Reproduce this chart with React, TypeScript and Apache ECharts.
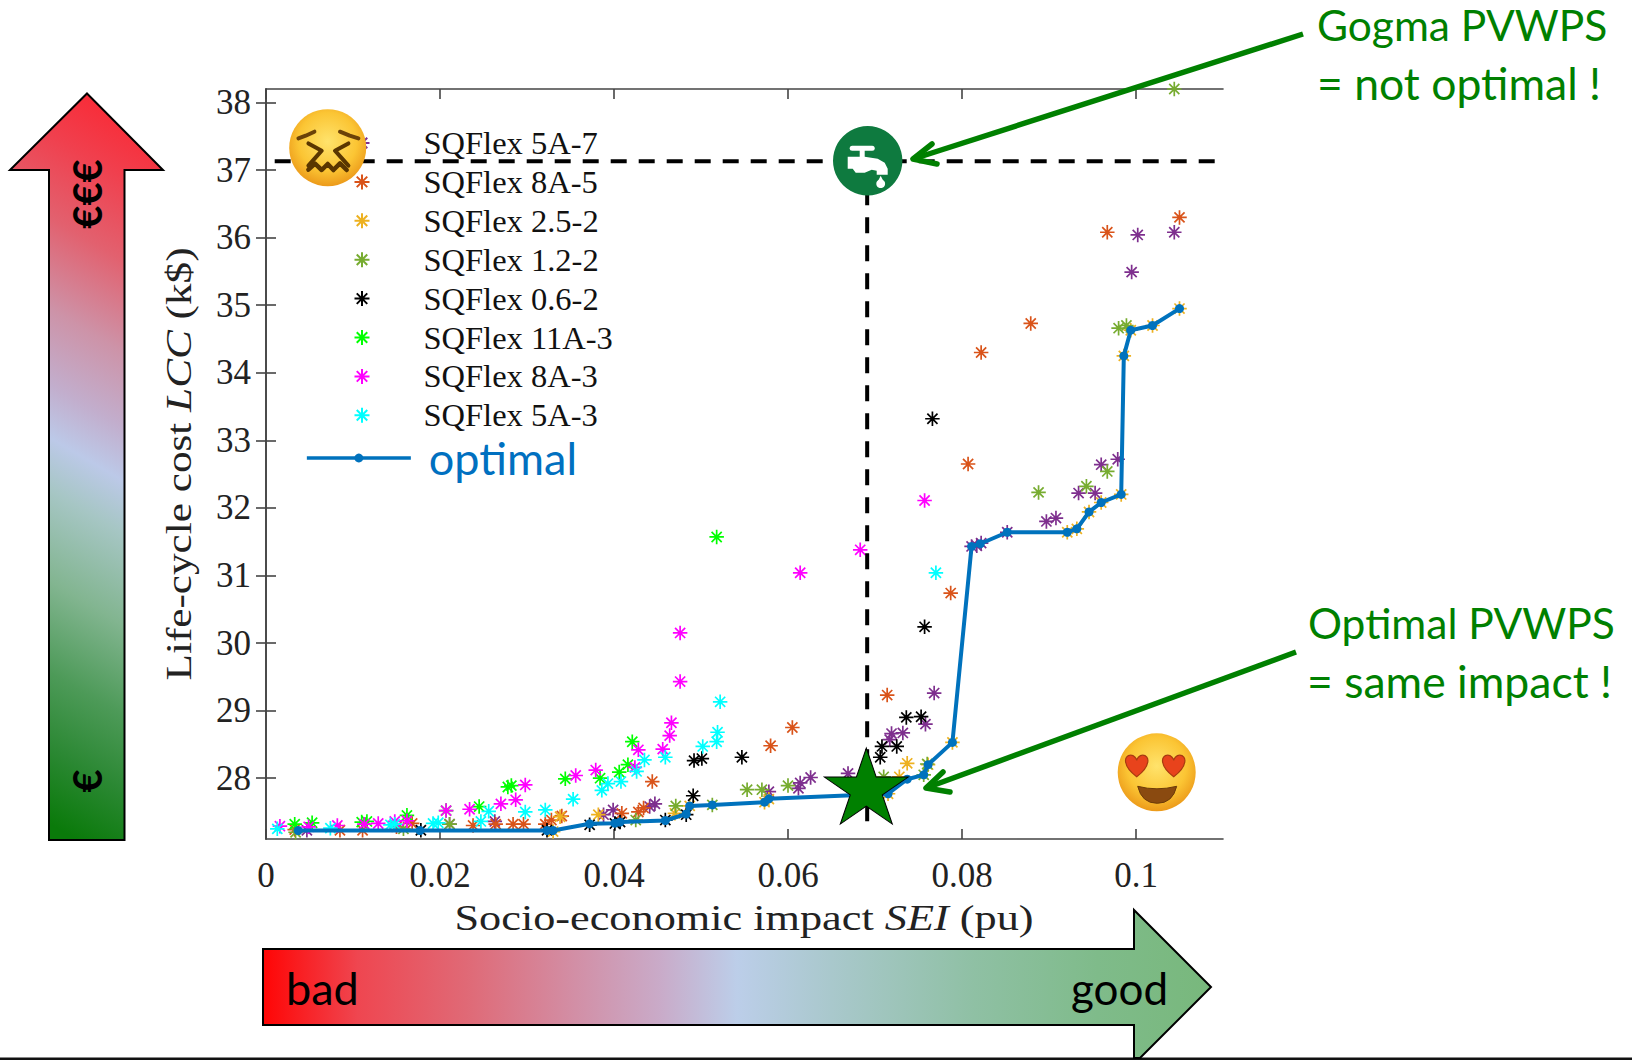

import React, { useEffect, useRef } from "react";
import * as echarts from "echarts";

const xTicks = [0, 0.02, 0.04, 0.06, 0.08, 0.1];
const yTicks = [28, 29, 30, 31, 32, 33, 34, 35, 36, 37, 38];

const sqflex5A7 = [[.1002,36.04],[.1044,36.08],[.0995,35.49],[.0979,32.72],[.0960,32.64],[.0934,32.22],[.0953,32.22],[.0897,31.80],[.0908,31.85],[.0852,31.64],[.0822,31.48],[.0811,31.43],[.0817,31.44],[.0768,29.26],[.0758,28.80],[.0732,28.67],[.0719,28.66],[.0717,28.57],[.0626,28.01],[.0614,27.93],[.0612,27.85],[.0578,27.80],[.0669,28.07],[.0447,27.62],[.0441,27.58],[.0399,27.53],[.0388,27.46],[.0263,27.36],[.0211,27.32],[.0047,27.23]];
const sqflex8A5 = [[.1050,36.30],[.0967,36.08],[.0879,34.73],[.0822,34.30],[.0807,32.65],[.0787,30.74],[.0714,29.23],[.0605,28.75],[.0580,28.48],[.0444,27.95],[.0434,27.56],[.0428,27.50],[.0409,27.48],[.0340,27.44],[.0328,27.38],[.0321,27.32],[.0296,27.32],[.0284,27.32],[.0264,27.32],[.0238,27.30],[.0085,27.23],[.0111,27.23],[.0033,27.24],[.0150,27.28],[.0168,27.33]];
const sqflex25 = [[.105,34.95],[.1019,34.70],[.0994,34.63],[.0986,34.25],[.0983,32.2],[.0960,32.08],[.0946,31.94],[.0932,31.69],[.0921,31.64],[.0789,28.53],[.0761,28.2],[.0737,28.22],[.0728,28.02],[.0715,27.77],[.0573,27.645],[.0578,27.69],[.0382,27.46],[.0470,27.48],[.0487,27.59],[.0338,27.43],[.0330,27.21]];
const sqflex12 = [[.1044,38.20],[.0980,34.66],[.0989,34.70],[.0888,32.23],[.0943,32.32],[.0967,32.54],[.0553,27.83],[.0570,27.83],[.0600,27.89],[.0756,28.05],[.0760,28.21],[.0710,28.02],[.0513,27.605],[.0471,27.59],[.0425,27.38],[.0211,27.32],[.0034,27.2],[.0158,27.25]];
const sqflex06 = [[.0766,33.32],[.0757,30.24],[.0736,28.90],[.0753,28.91],[.0708,28.47],[.0725,28.47],[.0706,28.31],[.0547,28.31],[.0501,28.29],[.0492,28.26],[.0491,27.74],[.0483,27.46],[.0459,27.38],[.0407,27.35],[.0401,27.33],[.0372,27.31],[.0323,27.23],[.0178,27.23]];
const sqflex11A = [[.0518,31.57],[.0421,28.54],[.0416,28.20],[.0406,28.09],[.0384,28.0],[.0344,27.99],[.0278,27.87],[.0282,27.89],[.0245,27.58],[.0207,27.52],[.0162,27.45],[.0116,27.36],[.0110,27.35],[.0053,27.34],[.0033,27.32]];
const sqflex8A3 = [[.0757,32.11],[.0683,31.38],[.0614,31.04],[.0476,30.15],[.0476,29.43],[.0466,28.82],[.0464,28.63],[.0456,28.43],[.0428,28.42],[.0379,28.12],[.0356,28.04],[.0298,27.90],[.0287,27.68],[.0270,27.62],[.0234,27.54],[.0207,27.52],[.0162,27.37],[.0148,27.36],[.0129,27.33],[.0113,27.32],[.0082,27.30],[.0049,27.28],[.0016,27.29],[.0424,28.16]];
const sqflex5A3 = [[.0770,31.04],[.0522,29.13],[.0519,28.68],[.0518,28.54],[.0502,28.47],[.0459,28.31],[.0435,28.27],[.0426,28.10],[.0408,27.95],[.0393,27.92],[.0386,27.82],[.0353,27.69],[.0321,27.53],[.0298,27.50],[.0256,27.51],[.0247,27.36],[.0198,27.34],[.0192,27.33],[.0148,27.32],[.0143,27.31],[.0074,27.26],[.0013,27.25]];
const optimal = [[.0037,27.226],[.0177,27.226],[.0323,27.226],[.0330,27.226],[.0372,27.325],[.0401,27.334],[.0407,27.35],[.0459,27.374],[.0483,27.47],[.0487,27.59],[.0513,27.605],[.0573,27.645],[.0578,27.694],[.0715,27.77],[.0737,27.985],[.0756,28.05],[.0761,28.2],[.0789,28.53],[.0811,31.43],[.0821,31.47],[.0852,31.64],[.0921,31.64],[.0932,31.69],[.0946,31.94],[.0960,32.08],[.0983,32.2],[.0986,34.25],[.0994,34.63],[.1019,34.70],[.105,34.95]];
const gogmaH = [[.001,37.13],[.1092,37.13]];
const gogmaV = [[.0691,37.13],[.0691,27.2]];
const starPoint = [[.069,27.884]];

const scatterDefs: [string, number[][], string][] = [
  ["SQFlex 5A-7", sqflex5A7, "#7E2F8E"],
  ["SQFlex 8A-5", sqflex8A5, "#D95319"],
  ["SQFlex 2.5-2", sqflex25, "#EDB120"],
  ["SQFlex 1.2-2", sqflex12, "#77AC30"],
  ["SQFlex 0.6-2", sqflex06, "#000000"],
  ["SQFlex 11A-3", sqflex11A, "#00FF00"],
  ["SQFlex 8A-3", sqflex8A3, "#FF00FF"],
  ["SQFlex 5A-3", sqflex5A3, "#00FFFF"],
];

const ASTERISK = "path://M0 -1L0 1M-1 0L1 0M-0.7 -0.7L0.7 0.7M-0.7 0.7L0.7 -0.7";
const STAR = "path://M0 -1L0.2245 -0.309L0.951 -0.309L0.363 0.118L0.588 0.809L0 0.382L-0.588 0.809L-0.363 0.118L-0.951 -0.309L-0.2245 -0.309Z";
const SERIF = '"Liberation Serif", serif';
const SANS = 'Lato, "Open Sans", sans-serif';
const GREEN = "#008000";
const INK = "#222222";

echarts.graphic.registerShape("emojiHeart", echarts.graphic.extendPath(
  "M0 0.9C-1.2 0 -1.1 -0.9 -0.5 -0.9C-0.2 -0.9 0 -0.6 0 -0.45C0 -0.6 0.2 -0.9 0.5 -0.9C1.1 -0.9 1.2 0 0 0.9Z", {}));
echarts.graphic.registerShape("emojiMouth", echarts.graphic.extendPath(
  "M-19 14Q0 19 20 14Q16 31 0.5 31Q-15 31 -19 14Z", {}));

const faceFill = {
  type: "radial", x: 0.5, y: 0.42, r: 0.58,
  colorStops: [
    { offset: 0, color: "#ffe36c" },
    { offset: 0.65, color: "#fbc534" },
    { offset: 1, color: "#ec9a1a" },
  ],
};

function label(text: string, x: number, y: number, size: number, fill: string) {
  return {
    type: "text", x, y, z: 20,
    style: { text, fontSize: size, fontFamily: SANS, fill, textAlign: "left", textVerticalAlign: "middle", align: "left", verticalAlign: "middle" },
  };
}

function axisTitle(text: string, x: number, y: number, rotation: number, scaleX: number) {
  const part = (italic: boolean) => ({ fontFamily: SERIF, fontSize: 36, fill: INK, fontStyle: italic ? "italic" : "normal" });
  return {
    type: "text", x, y, rotation, scaleX, z: 4,
    style: {
      text, textAlign: "center", textVerticalAlign: "middle", align: "center", verticalAlign: "middle",
      rich: { a: part(false), i: part(true) },
    },
  };
}

function stroke(color: string, lineWidth: number) {
  return { stroke: color, lineWidth, fill: "none", lineCap: "round", lineJoin: "round" };
}

function openArrow(from: number[], tip: number[], a: number[], b: number[]) {
  return [
    { type: "line", z: 18, shape: { x1: from[0], y1: from[1], x2: tip[0], y2: tip[1] }, style: { stroke: GREEN, lineWidth: 5.5 } },
    { type: "polyline", z: 18, shape: { points: [a, tip, b] }, style: stroke(GREEN, 5.5) },
  ];
}

const verticalGradient = {
  type: "linear", x: 0.56, y: 0, x2: 0.44, y2: 1,
  colorStops: [
    { offset: 0, color: "#f92a36" },
    { offset: 0.09, color: "#f0404e" },
    { offset: 0.2, color: "#e2616f" },
    { offset: 0.32, color: "#cd93a8" },
    { offset: 0.42, color: "#c2aecd" },
    { offset: 0.49, color: "#bcc9e8" },
    { offset: 0.56, color: "#a6c6c4" },
    { offset: 0.68, color: "#82b590" },
    { offset: 0.8, color: "#4d9a58" },
    { offset: 0.9, color: "#2b8833" },
    { offset: 1, color: "#0a7a0a" },
  ],
};
const horizontalGradient = {
  type: "linear", x: 0, y: 0, x2: 1, y2: 0,
  colorStops: [
    { offset: 0, color: "#ff0505" },
    { offset: 0.1, color: "#ef4650" },
    { offset: 0.22, color: "#df6b78" },
    { offset: 0.33, color: "#d28fa6" },
    { offset: 0.42, color: "#c9abc9" },
    { offset: 0.5, color: "#bccee9" },
    { offset: 0.6, color: "#a9c8cc" },
    { offset: 0.75, color: "#8fc0a4" },
    { offset: 0.88, color: "#7fbb8a" },
    { offset: 1, color: "#78b87c" },
  ],
};

function buildGraphic(): any[] {
  const worried = {
    type: "group", x: 327.7, y: 147.7,
    children: [
      { type: "circle", z: 12, shape: { cx: 0, cy: 0, r: 38.5 }, style: { fill: faceFill } },
      { type: "polyline", z: 13, shape: { points: [[-29.3, -9.3], [-22, -12], [-13.3, -16]] }, style: stroke("#6b4208", 4) },
      { type: "polyline", z: 13, shape: { points: [[12.3, -16], [22, -12], [30.7, -9.3]] }, style: stroke("#6b4208", 4) },
      { type: "polyline", z: 13, shape: { points: [[-19.3, -4.3], [-6, 3], [-19.3, 18]] }, style: stroke("#5a3600", 4) },
      { type: "polyline", z: 13, shape: { points: [[20.7, -4.3], [7.3, 3], [20.7, 18]] }, style: stroke("#5a3600", 4) },
      { type: "polyline", z: 13, shape: { points: [[-19.3, 22], [-12.7, 16], [-6, 22.3], [0, 16.3], [5.7, 22.3], [12.3, 15.7], [19, 22.3]] }, style: stroke("#5a3600", 4.5) },
    ],
  };
  const love = {
    type: "group", x: 1156.7, y: 772.3,
    children: [
      { type: "circle", z: 12, shape: { cx: 0, cy: 0, r: 39 }, style: { fill: faceFill } },
      { type: "emojiHeart", z: 13, x: -20, y: -6.3, scaleX: 12, scaleY: 12, style: { fill: "#e8431c", stroke: "#a83a10", lineWidth: 0.1 } },
      { type: "emojiHeart", z: 13, x: 17, y: -6.3, scaleX: 12, scaleY: 12, style: { fill: "#e8431c", stroke: "#a83a10", lineWidth: 0.1 } },
      { type: "emojiMouth", z: 13, style: { fill: "#8a4a10", stroke: "#6b3a08", lineWidth: 1 } },
    ],
  };
  const tap = {
    type: "group", x: 867.7, y: 160.7,
    children: [
      { type: "circle", z: 12, shape: { cx: 0, cy: 0, r: 34.7 }, style: { fill: "#0e7a3f" } },
      { type: "rect", z: 13, shape: { x: -18, y: -15, width: 25, height: 5, r: 2.5 }, style: { fill: "#ffffff" } },
      { type: "rect", z: 13, shape: { x: -8, y: -11, width: 5, height: 8 }, style: { fill: "#ffffff" } },
      { type: "polygon", z: 13, shape: { points: [[-20, -4], [-3, -4], [10, -2], [17, 2], [20, 8], [20, 14], [9, 14], [9, 10], [4, 9], [-3, 12], [-12, 12], [-15, 8], [-20, 8]] }, style: { fill: "#ffffff" } },
      { type: "polygon", z: 13, shape: { points: [[13, 15], [9.5, 22], [16.5, 22]] }, style: { fill: "#ffffff" } },
      { type: "circle", z: 13, shape: { cx: 13, cy: 23, r: 4.4 }, style: { fill: "#ffffff" } },
    ],
  };
  return [
    { type: "rect", z: 1, shape: { x: 0, y: 1057.5, width: 1632, height: 2.5 }, style: { fill: "#111111" } },
    { type: "polygon", z: 3, shape: { points: [[87, 93.5], [163, 170], [124.5, 170], [124.5, 840], [49, 840], [49, 170], [10, 170]] }, style: { fill: verticalGradient, stroke: "#000000", lineWidth: 2 } },
    { type: "polygon", z: 3, shape: { points: [[263, 949], [1134, 949], [1134, 910], [1211, 987], [1140, 1058], [1134, 1058], [1134, 1025], [263, 1025]] }, style: { fill: horizontalGradient, stroke: "#000000", lineWidth: 2 } },
    { type: "text", z: 20, x: 87, y: 194, rotation: Math.PI / 2, style: { text: "€€€", fontSize: 40, fontFamily: SANS, fontWeight: "bold", fill: "#000000", textAlign: "center", textVerticalAlign: "middle", align: "center", verticalAlign: "middle" } },
    { type: "text", z: 20, x: 87, y: 781, rotation: Math.PI / 2, style: { text: "€", fontSize: 40, fontFamily: SANS, fontWeight: "bold", fill: "#000000", textAlign: "center", textVerticalAlign: "middle", align: "center", verticalAlign: "middle" } },
    axisTitle("{a|Socio-economic impact }{i|SEI}{a| (pu)}", 744, 918, 0, 1.23),
    axisTitle("{a|Life-cycle cost }{i|LCC}{a| (k$)}", 179, 464, Math.PI / 2, 1.2),
    label("bad", 286, 988, 45, "#000000"),
    label("good", 1071, 988, 44, "#000000"),
    label("Gogma PVWPS", 1317, 24, 42.5, GREEN),
    label("= not optimal !", 1317, 82, 44.5, GREEN),
    label("Optimal PVWPS", 1308, 622, 42.5, GREEN),
    label("= same impact !", 1307, 680, 44.5, GREEN),
    worried, love, tap,
    ...openArrow([1303, 34], [913, 159], [932, 144], [937, 164]),
    ...openArrow([1296, 652], [926, 788], [943, 772], [950, 792]),
  ];
}

const frameAxis = { lineStyle: { color: "#444444", width: 1.6 } };
const frameTick = { inside: true, length: 10, lineStyle: { color: "#444444", width: 1.6 } };

function buildOption(): any {
  return {
    animation: false,
    backgroundColor: "#ffffff",
    grid: { left: 266, top: 89, width: 957, height: 750, containLabel: false },
    xAxis: [
      {
        type: "value", min: 0, max: 0.11, position: "bottom",
        splitLine: { show: false }, axisLine: { show: true, ...frameAxis },
        axisTick: { ...frameTick, customValues: xTicks },
        axisLabel: { customValues: xTicks, margin: 19, fontFamily: SERIF, fontSize: 35, color: INK, formatter: (v: number) => String(v) },
      },
      {
        type: "value", min: 0, max: 0.11, position: "top",
        splitLine: { show: false }, axisLine: { show: true, ...frameAxis },
        axisTick: { ...frameTick, customValues: xTicks }, axisLabel: { show: false },
      },
    ],
    yAxis: [
      {
        type: "value", min: 27.1, max: 38.2, position: "left",
        splitLine: { show: false }, axisLine: { show: true, ...frameAxis },
        axisTick: { ...frameTick, customValues: yTicks },
        axisLabel: { customValues: yTicks, margin: 15, fontFamily: SERIF, fontSize: 35, color: INK },
      },
      {
        type: "value", min: 27.1, max: 38.2, position: "right",
        splitLine: { show: false }, axisLine: { show: true, ...frameAxis },
        axisTick: { ...frameTick, customValues: yTicks }, axisLabel: { show: false },
      },
    ],
    legend: [
      {
        orient: "vertical", left: 352, top: 126.5, itemWidth: 15, itemHeight: 15, itemGap: 5.9, padding: 0,
        selectedMode: false, symbolKeepAspect: true,
        textStyle: { fontFamily: SERIF, fontSize: 32.5, color: "#111111", padding: [0, 0, 0, 49], lineHeight: 30 },
        data: scatterDefs.map(([name]) => ({ name, icon: ASTERISK })),
      },
      {
        orient: "vertical", left: 305, top: 435.5, itemWidth: 104, itemHeight: 11, padding: 0,
        selectedMode: false,
        lineStyle: { width: 3.7, color: "#0072BD" },
        textStyle: { fontFamily: SANS, fontSize: 45, color: "#0070C0", padding: [0, 0, 0, 13], lineHeight: 40 },
        data: ["optimal"],
      },
    ],
    graphic: { elements: buildGraphic() },
    series: [
      ...scatterDefs.map(([name, data, color]) => ({
        name, type: "scatter", data, clip: false, z: 2,
        symbol: ASTERISK, symbolSize: 14.5,
        itemStyle: { color: "none", borderColor: color, borderWidth: 1.7, opacity: 1 },
      })),
      {
        name: "optimal", type: "line", data: optimal, z: 3, clip: false,
        symbol: "circle", symbolSize: 9, showSymbol: true,
        lineStyle: { color: "#0072BD", width: 4 },
        itemStyle: { color: "#0072BD" },
      },
      ...[gogmaH, gogmaV].map((data) => ({
        type: "line", data, z: 5, clip: false, symbol: "none", silent: true,
        lineStyle: { color: "#000000", width: 4, type: [16, 12] },
      })),
      {
        type: "scatter", data: starPoint, z: 6, clip: false, silent: true,
        symbol: STAR, symbolSize: [84, 76],
        itemStyle: { color: GREEN, borderColor: "#000000", borderWidth: 1, opacity: 1 },
      },
    ],
  };
}

export default function App() {
  const ref = useRef<HTMLDivElement>(null);
  useEffect(() => {
    const chart = echarts.init(ref.current!, null, { renderer: "svg" });
    chart.setOption(buildOption());
    return () => chart.dispose();
  }, []);
  return <div ref={ref} style={{ position: "absolute", left: 0, top: 0, width: 1632, height: 1060 }} />;
}
